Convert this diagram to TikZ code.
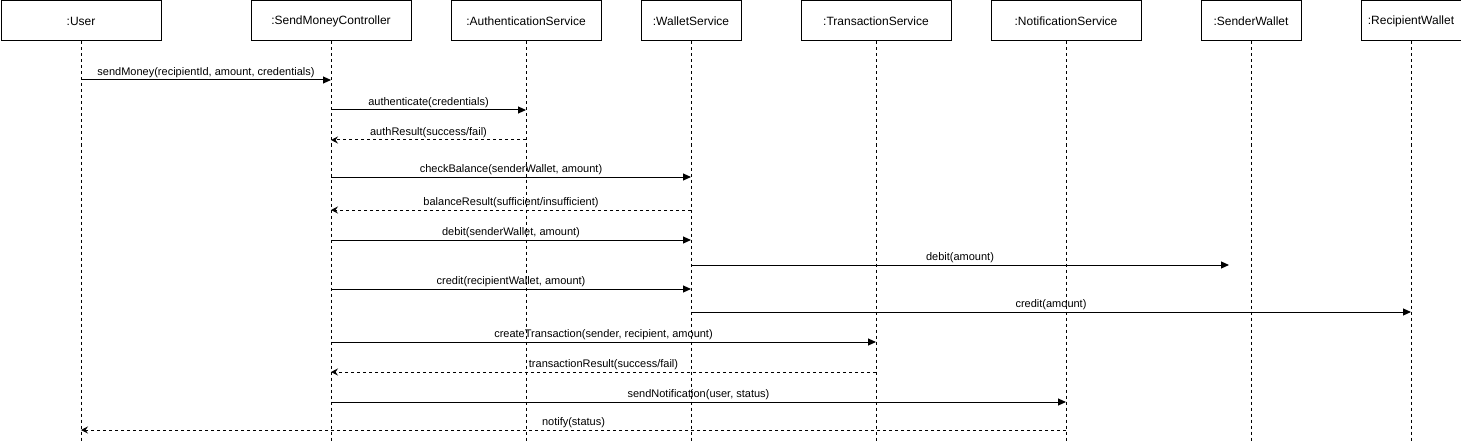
\documentclass[tikz,border=0pt]{standalone}
\usepackage{fontspec}
\setmainfont{Liberation Sans}
\usetikzlibrary{arrows.meta}
\begin{document}
\begin{tikzpicture}[x=1pt,y=-1pt,
 actor/.style={draw, line width=1pt, minimum height=40pt, inner sep=0pt, font=\fontsize{12}{14}\selectfont, anchor=north west},
 life/.style={line width=1pt, dash pattern=on 3pt off 3pt},
 msg/.style={line width=1pt, -{Triangle[length=8pt,width=7pt]}},
 ret/.style={line width=1pt, dash pattern=on 3pt off 3pt, -{Stealth[length=7pt,width=7pt,inset=2.5pt]}},
 lbl/.style={font=\fontsize{11}{13}\selectfont, above, inner sep=2pt}
]
\useasboundingbox (0,0) rectangle (1461,441);
% participants
\node[actor, minimum width=160pt] (user) at (0.5,0.5) {:User};
\node[actor, minimum width=160pt] (ctrl) at (250.5,0.5) {:SendMoneyController};
\node[actor, minimum width=150pt] (auth) at (450.5,0.5) {:AuthenticationService};
\node[actor, minimum width=100pt] (wal) at (640.5,0.5) {:WalletService};
\node[actor, minimum width=150pt] (tx) at (800.5,0.5) {:TransactionService};
\node[actor, minimum width=150pt] (note) at (990.5,0.5) {:NotificationService};
\node[actor, minimum width=100pt] (sw) at (1200.5,0.5) {:SenderWallet};
\node[actor, minimum width=100pt] (rw) at (1360.5,0.5) {:RecipientWallet};
% lifelines
\foreach \n in {user,ctrl,auth,wal,tx,note,sw,rw}{
  \coordinate (\n-end) at (\n.south |- 0,441);
  \draw[life] (\n.south) -- (\n-end);
}
% messages
\draw[msg] (user.south |- 0,80) -- node[lbl]{sendMoney(recipientId, amount, credentials)} (ctrl.south |- 0,80);
\draw[msg] (ctrl.south |- 0,110) -- node[lbl]{authenticate(credentials)} (auth.south |- 0,110);
\draw[ret] (auth.south |- 0,140) -- node[lbl]{authResult(success/fail)} (ctrl.south |- 0,140);
\draw[msg] (ctrl.south |- 0,177) -- node[lbl]{checkBalance(senderWallet, amount)} (wal.south |- 0,177);
\draw[ret] (wal.south |- 0,210) -- node[lbl]{balanceResult(sufficient/insufficient)} (ctrl.south |- 0,210);
\draw[msg] (ctrl.south |- 0,240) -- node[lbl]{debit(senderWallet, amount)} (wal.south |- 0,240);
\coordinate (debitEnd) at (1229,265);
\draw[msg] (wal.south |- 0,265) -- node[lbl]{debit(amount)} (debitEnd);
\draw[msg] (ctrl.south |- 0,289) -- node[lbl]{credit(recipientWallet, amount)} (wal.south |- 0,289);
\draw[msg] (wal.south |- 0,312) -- node[lbl]{credit(amount)} (rw.south |- 0,312);
\draw[msg] (ctrl.south |- 0,342) -- node[lbl]{createTransaction(sender, recipient, amount)} (tx.south |- 0,342);
\draw[ret] (tx.south |- 0,372) -- node[lbl]{transactionResult(success/fail)} (ctrl.south |- 0,372);
\draw[msg] (ctrl.south |- 0,402) -- node[lbl]{sendNotification(user, status)} (note.south |- 0,402);
\draw[ret] (note.south |- 0,430) -- node[lbl]{notify(status)} (user.south |- 0,430);
\end{tikzpicture}
\end{document}
